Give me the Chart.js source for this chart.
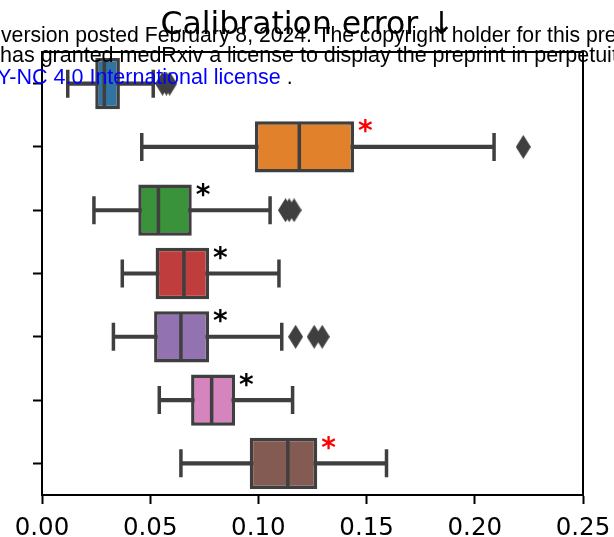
<!DOCTYPE html>
<html>
<head>
<meta charset="utf-8">
<script src="https://cdn.jsdelivr.net/npm/chart.js"></script>
<style>
  body { margin: 0; background: #fff; }
  #wrap { position: relative; width: 614px; height: 537px; overflow: hidden; }
  .wm {
    position: absolute; white-space: nowrap;
    font-family: "Liberation Sans", Arial, sans-serif;
    font-size: 21.5px; line-height: 21.5px; color: #000;
    pointer-events: none;
  }
</style>
</head>
<body>
<div id="wrap">
  <canvas id="calib" width="614" height="537"></canvas>
  <div class="wm" style="left:1px; top:24px; font-size:21.2px;">version posted February 8, 2024. The copyright holder for this preprint</div>
  <div class="wm" style="left:0px; top:45.3px;">has granted medRxiv a license to display the preprint in perpetuity.</div>
  <div class="wm" style="left:-3px; top:66.8px;"><span style="color:#0000ff">Y-NC 4.0 International license</span> .</div>
</div>
<script>
  const categories = ['M1', 'M2', 'M3', 'M4', 'M5', 'M6', 'M7'];
  const whiskerLow  = [0.0119, 0.0461, 0.0240, 0.0371, 0.0330, 0.0542, 0.0642];
  const q1          = [0.0246, 0.0984, 0.0445, 0.0525, 0.0518, 0.0689, 0.0960];
  const median      = [0.0288, 0.1189, 0.0538, 0.0656, 0.0642, 0.0784, 0.1136];
  const q3          = [0.0360, 0.1442, 0.0692, 0.0772, 0.0772, 0.0892, 0.1272];
  const whiskerHigh = [0.0514, 0.2089, 0.1054, 0.1095, 0.1108, 0.1158, 0.1592];
  const outliers = [
    [0.0557, 0.0575, 0.0590],
    [0.2224],
    [0.1125, 0.1142, 0.1165],
    [],
    [0.1172, 0.1258, 0.1295],
    [],
    []
  ];
  const sigMarks  = ['', '*', '*', '*', '*', '*', '*'];
  const sigColors = ['#000', '#ff0000', '#000', '#000', '#000', '#000', '#ff0000'];
  const xTicks = [0, 0.05, 0.10, 0.15, 0.20, 0.25];

  const boxColors = ['#3274a1', '#e1812c', '#3a923a', '#c03d3e', '#9372b2', '#d684bd', '#845b53'];
  const lineGray = '#3f3f3f';

  // thin diamond marker like matplotlib 'd'
  const diamond = document.createElement('canvas');
  diamond.width = 15;
  diamond.height = 24;
  const dctx = diamond.getContext('2d');
  dctx.fillStyle = lineGray;
  dctx.beginPath();
  dctx.moveTo(7.5, 0);
  dctx.lineTo(15, 12);
  dctx.lineTo(7.5, 24);
  dctx.lineTo(0, 12);
  dctx.closePath();
  dctx.fill();

  // y given as the category label so the category scale finds the right row
  const outlierPoints = [];
  outliers.forEach((vals, i) => vals.forEach(v => outlierPoints.push({ x: v, y: categories[i] })));
  const medianPoints = median.map((v, i) => ({ x: v, y: categories[i] }));
  const capPoints = whiskerLow.map((v, i) => ({ x: v, y: categories[i] }))
    .concat(whiskerHigh.map((v, i) => ({ x: v, y: categories[i] })));

  const frame = {
    id: 'frame',
    afterDatasetsDraw(chart) {
      const { ctx, chartArea: a } = chart;
      ctx.save();
      ctx.strokeStyle = '#000';
      ctx.lineWidth = 2;
      ctx.beginPath();
      ctx.moveTo(a.left, a.top);
      ctx.lineTo(a.right, a.top);
      ctx.lineTo(a.right, a.bottom);
      ctx.stroke();
      ctx.restore();
    }
  };

  const stars = {
    id: 'stars',
    afterDatasetsDraw(chart) {
      const { ctx, scales } = chart;
      ctx.save();
      ctx.font = 'bold 28px "DejaVu Sans"';
      ctx.textAlign = 'left';
      ctx.textBaseline = 'alphabetic';
      sigMarks.forEach((m, i) => {
        if (!m) return;
        ctx.fillStyle = sigColors[i];
        const x = scales.x.getPixelForValue(q3[i]) + 4;
        const y = scales.y.getPixelForValue(i) - 6.5;
        ctx.fillText(m, x, y);
      });
      ctx.restore();
    }
  };

  new Chart(document.getElementById('calib'), {
    type: 'bar',
    data: {
      labels: categories,
      datasets: [
        {
          type: 'scatter',
          data: outlierPoints,
          pointStyle: diamond,
          pointRadius: 7,
          order: 1
        },
        {
          type: 'scatter',
          data: medianPoints,
          pointStyle: 'line',
          rotation: 90,
          pointRadius: 24,
          borderColor: lineGray,
          borderWidth: 3.5,
          order: 1
        },
        {
          type: 'scatter',
          data: capPoints,
          pointStyle: 'line',
          rotation: 90,
          pointRadius: 14,
          borderColor: lineGray,
          borderWidth: 3.5,
          order: 1
        },
        {
          data: categories.map((c, i) => [q1[i], q3[i]]),
          backgroundColor: boxColors,
          borderColor: lineGray,
          borderWidth: 3.5,
          borderSkipped: false,
          barPercentage: 0.81,
          categoryPercentage: 1,
          grouped: false,
          order: 2
        },
        {
          data: categories.map((c, i) => [whiskerLow[i], whiskerHigh[i]]),
          backgroundColor: lineGray,
          borderWidth: 0,
          barThickness: 3.5,
          grouped: false,
          order: 3
        }
      ]
    },
    options: {
      indexAxis: 'y',
      responsive: false,
      animation: false,
      events: [],
      layout: { padding: { left: 32, right: 31, top: 0, bottom: 0 } },
      scales: {
        x: {
          type: 'linear',
          position: 'bottom',
          min: 0,
          max: 0.25,
          afterBuildTicks(scale) { scale.ticks = xTicks.map(v => ({ value: v })); },
          afterFit(scale) {
            scale.height = 42;
            scale.paddingLeft = 0;
            scale.paddingRight = 0;
          },
          ticks: {
            color: '#000',
            padding: 10,
            maxRotation: 0,
            font: { family: 'DejaVu Sans', size: 24.5 },
            callback: v => v.toFixed(2)
          },
          grid: { drawOnChartArea: false, tickLength: 9, tickColor: '#000', tickWidth: 2 },
          border: { display: true, color: '#000', width: 2 }
        },
        y: {
          type: 'category',
          position: 'left',
          offset: true,
          afterFit(scale) { scale.width = 10; },
          ticks: { display: false },
          grid: { offset: false, drawOnChartArea: false, tickLength: 9, tickColor: '#000', tickWidth: 2 },
          border: { display: true, color: '#000', width: 2 }
        }
      },
      plugins: {
        legend: { display: false },
        tooltip: { enabled: false },
        title: {
          display: true,
          text: 'Calibration error \u2193',
          color: '#000',
          font: { family: 'DejaVu Sans', size: 31.5, weight: 'normal' },
          padding: { top: 7, bottom: 7.2 }
        }
      }
    },
    plugins: [frame, stars]
  });
</script>
</body>
</html>
